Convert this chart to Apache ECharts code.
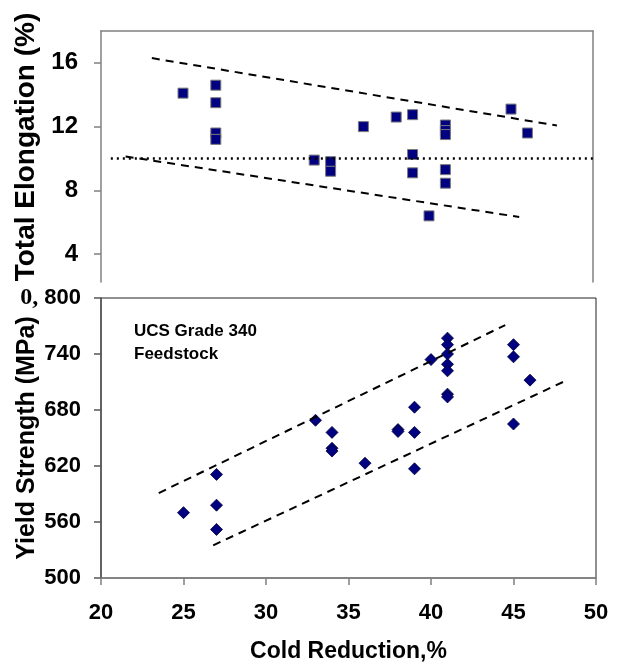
<!DOCTYPE html>
<html><head><meta charset="utf-8">
<script src="https://cdn.jsdelivr.net/npm/echarts@6/dist/echarts.min.js"></script>
<style>html,body{margin:0;padding:0;background:#fff}#c{width:617px;height:663px}</style>
</head><body><div id="c"></div>
<script>
// ---- Top panel: Total Elongation (%) vs Cold Reduction ----
const elongX = [25, 27, 27, 27, 27, 33, 34, 34, 36, 38, 39, 39, 39, 40, 41, 41, 41, 41, 41, 45, 46];
const elongY = [14.1, 14.6, 13.5, 11.6, 11.2, 9.9, 9.8, 9.2, 12.0, 12.6, 12.75, 10.25, 9.1, 6.4, 12.1, 11.75, 11.5, 9.3, 8.45, 13.1, 11.6];
const elongUpperX = [23.1, 47.8];
const elongUpperY = [16.3, 12.07];
const elongLowerX = [21.5, 45.5];
const elongLowerY = [10.13, 6.33];
const elongRefX = [20.6, 50];
const elongRefY = [10, 10];
const elongTicks = [4, 8, 12, 16];

// ---- Bottom panel: Yield Strength (MPa) vs Cold Reduction ----
const yieldX = [25, 27, 27, 27, 33, 34, 34, 34, 36, 38, 38, 39, 39, 39, 40, 41, 41, 41, 41, 41, 41, 41, 45, 45, 45, 46];
const yieldY = [570, 611, 578, 552, 669, 656, 639, 636, 623, 659, 657, 683, 656, 617, 734, 757, 750, 740, 729, 722, 697, 694, 750, 737, 665, 712];
const yieldUpperX = [23.5, 44.5];
const yieldUpperY = [591, 771];
const yieldLowerX = [26.8, 48];
const yieldLowerY = [535, 710];
const yieldTicks = [500, 560, 620, 680, 740, 800];
const xTicks = [20, 25, 30, 35, 40, 45, 50];

const zip = (a, b) => a.map((v, i) => [v, b[i]]);
const FONT = 'Arial, "Liberation Sans", sans-serif';

const chart = echarts.init(document.getElementById('c'), null, {renderer: 'canvas'});
const dashed = {color: '#000', width: 2, type: [8, 6]};

chart.setOption({
  animation: false,
  backgroundColor: '#fff',
  grid: [
    {left: 101, top: 31, width: 492, height: 251, show: false, containLabel: false, outerBoundsMode: 'none'},
    {left: 101, top: 298, width: 495, height: 280, show: true, borderColor: '#222', borderWidth: 1, backgroundColor: 'transparent', containLabel: false, outerBoundsMode: 'none'}
  ],
  xAxis: [
    {gridIndex: 0, type: 'value', min: xTicks[0], max: xTicks[xTicks.length - 1], position: 'top',
     axisLine: {show: true, onZero: false, lineStyle: {color: '#808080', width: 1.5}},
     axisTick: {show: false}, axisLabel: {show: false}, splitLine: {show: false}},
    {gridIndex: 1, type: 'value', min: xTicks[0], max: xTicks[xTicks.length - 1], interval: 5, position: 'bottom',
     axisLine: {show: true, onZero: false, lineStyle: {color: '#808080', width: 1.5}},
     axisTick: {show: true, inside: false, length: 7, customValues: xTicks, lineStyle: {color: '#808080', width: 1.5}},
     axisLabel: {show: true, customValues: xTicks, margin: 24, fontSize: 22, fontWeight: 'bold', color: '#000', fontFamily: FONT},
     splitLine: {show: false},
     name: 'Cold Reduction,%', nameLocation: 'middle', nameGap: 62, nameMoveOverlap: false,
     nameTextStyle: {fontSize: 23, fontWeight: 'bold', color: '#000', fontFamily: FONT}}
  ],
  yAxis: [
    {gridIndex: 0, type: 'value', min: 2.25, max: 18, position: 'left',
     axisLine: {show: true, onZero: false, lineStyle: {color: '#808080', width: 1.5}},
     axisTick: {show: true, length: 7, customValues: elongTicks, lineStyle: {color: '#808080', width: 1.5}},
     axisLabel: {show: true, customValues: elongTicks, margin: 23, fontSize: 24, fontWeight: 'bold', color: '#000', fontFamily: FONT},
     splitLine: {show: false}},
    {gridIndex: 0, type: 'value', min: 2.25, max: 18, position: 'right',
     axisLine: {show: true, onZero: false, lineStyle: {color: '#808080', width: 1.5}},
     axisTick: {show: false}, axisLabel: {show: false}, splitLine: {show: false}},
    {gridIndex: 1, type: 'value', min: yieldTicks[0], max: yieldTicks[yieldTicks.length - 1], position: 'left',
     axisLine: {show: true, onZero: false, lineStyle: {color: '#555', width: 1.5}},
     axisTick: {show: true, length: 7, customValues: yieldTicks, lineStyle: {color: '#555', width: 1.5}},
     axisLabel: {show: true, customValues: yieldTicks, margin: 20, fontSize: 22, fontWeight: 'bold', color: '#000', fontFamily: FONT,
       formatter: v => v === 800 ? '{s|0,} 800' : String(v),
       rich: {s: {fontFamily: '"Liberation Serif", "DejaVu Serif", serif', fontWeight: 'bold', fontSize: 24, color: '#000'}}},
     splitLine: {show: false},
     name: 'Yield Strength (MPa)', nameLocation: 'middle', nameGap: 61, nameRotate: 90, nameMoveOverlap: false,
     nameTextStyle: {fontSize: 25, fontWeight: 'bold', color: '#000', fontFamily: FONT}}
  ],
  graphic: [
    {type: 'text', x: 26, y: 147, rotation: Math.PI / 2,
     style: {text: 'Total Elongation (%)', font: 'bold 28px ' + FONT, fill: '#000', align: 'center', verticalAlign: 'middle'}},
    {type: 'text', left: 134, top: 320,
     style: {text: 'UCS Grade 340\nFeedstock', font: 'bold 17px ' + FONT, fill: '#000', lineHeight: 23}}
  ],
  series: [
    {type: 'scatter', xAxisIndex: 0, yAxisIndex: 0, data: zip(elongX, elongY), symbol: 'rect', symbolSize: 10, z: 2,
     itemStyle: {color: '#000080', borderColor: '#7a7a7a', borderWidth: 1, opacity: 1}},
    {type: 'line', xAxisIndex: 0, yAxisIndex: 0, data: zip(elongUpperX, elongUpperY), symbol: 'none', z: 3, lineStyle: dashed},
    {type: 'line', xAxisIndex: 0, yAxisIndex: 0, data: zip(elongLowerX, elongLowerY), symbol: 'none', z: 3, lineStyle: dashed},
    {type: 'line', xAxisIndex: 0, yAxisIndex: 0, data: zip(elongRefX, elongRefY), symbol: 'none', z: 3,
     lineStyle: {color: '#000', width: 2.5, type: [2, 4]}},
    {type: 'scatter', xAxisIndex: 1, yAxisIndex: 2, data: zip(yieldX, yieldY), symbol: 'diamond', symbolSize: 12, z: 2,
     itemStyle: {color: '#000080', borderColor: '#000033', borderWidth: 0.8, opacity: 1}},
    {type: 'line', xAxisIndex: 1, yAxisIndex: 2, data: zip(yieldUpperX, yieldUpperY), symbol: 'none', z: 3, lineStyle: dashed},
    {type: 'line', xAxisIndex: 1, yAxisIndex: 2, data: zip(yieldLowerX, yieldLowerY), symbol: 'none', z: 3, lineStyle: dashed}
  ]
});
</script>
</body></html>
